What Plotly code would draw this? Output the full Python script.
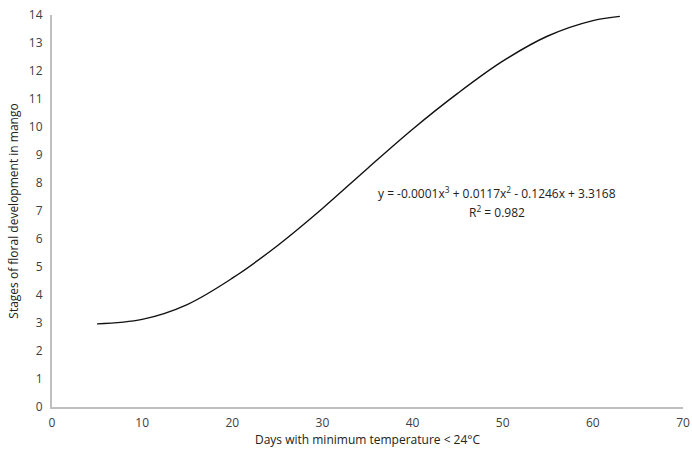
import plotly.graph_objects as go

# Values
days = [5, 10, 15, 20, 25, 30, 35, 40, 45, 50, 55, 60, 63]
stages = [2.97, 3.13, 3.66, 4.60, 5.76, 7.09, 8.52, 9.92, 11.2, 12.35, 13.25, 13.8, 13.95]

x_ticks = [0, 10, 20, 30, 40, 50, 60, 70]
y_ticks = list(range(0, 15))

equation = "y = -0.0001x<sup>3</sup> + 0.0117x<sup>2</sup> - 0.1246x + 3.3168"
r_squared = "R<sup>2</sup> = 0.982"

FONT = "Open Sans, Liberation Sans, sans-serif"

fig = go.Figure()
fig.add_trace(go.Scatter(
    x=days, y=stages, mode="lines",
    line=dict(color="#111111", width=1.4, shape="spline", smoothing=1.0),
    showlegend=False, hoverinfo="skip"))

ann_font = dict(family=FONT, size=12, color="#222222")
fig.add_annotation(x=49.4, y=7.66, xref="x", yref="y", text=equation,
                   showarrow=False, font=ann_font)
fig.add_annotation(x=49.4, y=6.98, xref="x", yref="y", text=r_squared,
                   showarrow=False, font=ann_font)

axis_font = dict(family=FONT, size=12, color="#404040")
title_font = dict(family=FONT, size=12, color="#222222")
fig.update_layout(
    width=692, height=454,
    margin=dict(l=52, r=9, t=15, b=47),
    paper_bgcolor="white", plot_bgcolor="white",
    xaxis=dict(range=[0, 70], tickvals=x_ticks, showgrid=False, zeroline=False,
               showline=True, linecolor="#bfbfbf", linewidth=2,
               ticks="outside", ticklen=4, tickcolor="rgba(255,255,255,0)",
               tickfont=axis_font, automargin=False,
               title=dict(text="Days with minimum temperature < 24°C", standoff=4,
                          font=title_font)),
    yaxis=dict(range=[0, 14], tickvals=y_ticks, showgrid=False, zeroline=False,
               showline=True, linecolor="#bfbfbf", linewidth=2,
               ticks="outside", ticklen=5, tickcolor="rgba(255,255,255,0)",
               tickfont=axis_font, automargin=False,
               title=dict(text="Stages of floral development in mango", standoff=8,
                          font=title_font)),
)

fig.write_html("out.html")
